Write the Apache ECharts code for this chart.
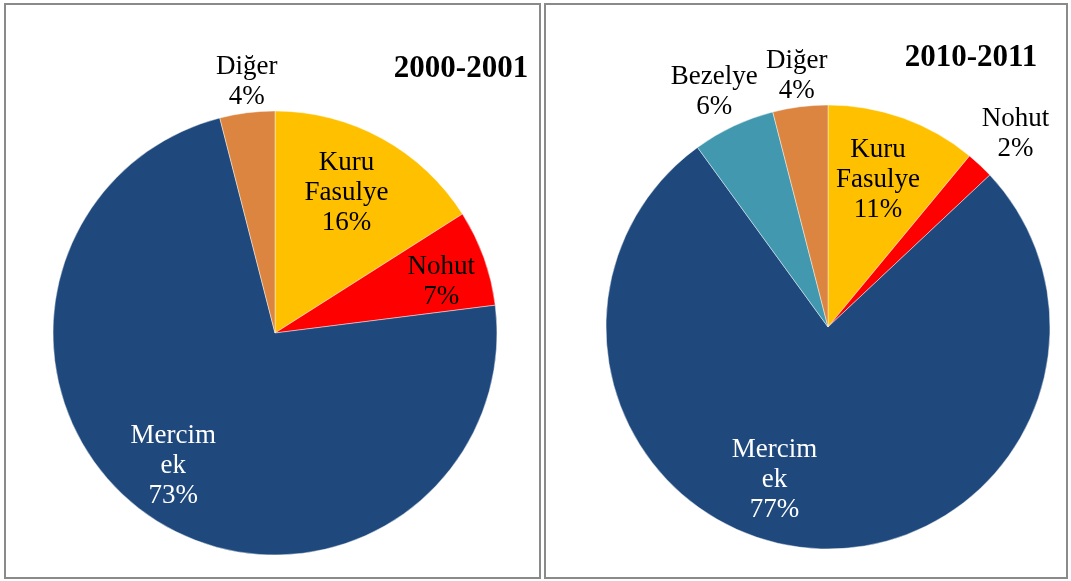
<!DOCTYPE html>
<html>
<head>
<meta charset="utf-8">
<script src="https://cdn.jsdelivr.net/npm/echarts@6/dist/echarts.min.js"></script>
<style>
  html, body { margin: 0; padding: 0; background: #ffffff; }
  #chart { width: 1071px; height: 581px; }
</style>
</head>
<body>
<div id="chart"></div>
<script>
// Pulse production shares (%), two crop years
const titles = ['2000-2001', '2010-2011'];

const categories2000 = ['Kuru Fasulye', 'Nohut', 'Mercimek', 'Diğer'];
const values2000 = [16, 7, 73, 4];

const categories2010 = ['Kuru Fasulye', 'Nohut', 'Mercimek', 'Bezelye', 'Diğer'];
const values2010 = [11, 2, 77, 6, 4];

// label text as it is wrapped on the chart
const labelNames = {
  'Kuru Fasulye': 'Kuru\nFasulye',
  'Nohut': 'Nohut',
  'Mercimek': 'Mercim\nek',
  'Bezelye': 'Bezelye',
  'Diğer': 'Diğer'
};

const colors = {
  'Kuru Fasulye': '#FFC000',
  'Nohut': '#FF0000',
  'Mercimek': '#1F497D',
  'Bezelye': '#4198AF',
  'Diğer': '#DC8540'
};

// slices whose label sits outside the pie
const outsideLabels = {
  '2000-2001': ['Diğer'],
  '2010-2011': ['Nohut', 'Bezelye', 'Diğer']
};

// small nudges of label blocks [dx, dy]
const labelNudge = {
  '2000-2001': { 'Kuru Fasulye': [-8, 5], 'Nohut': [11, 5], 'Mercimek': [-9, -4], 'Diğer': [5, 12] },
  '2010-2011': { 'Kuru Fasulye': [-6, 8], 'Nohut': [6, 0], 'Mercimek': [-38, -11], 'Bezelye': [-1, 5], 'Diğer': [2, 12] }
};

const R = 222;
const centers = [[275, 333], [828, 327]];
const font = '"Liberation Serif", "Times New Roman", serif';

function pieSeries(title, cats, vals, center) {
  const slices = cats.map((c, i) => ({
    name: c, value: vals[i],
    itemStyle: { color: colors[c] }
  }));
  const main = {
    type: 'pie', center: center, radius: [0, R],
    startAngle: 90, clockwise: true,
    label: { show: false }, labelLine: { show: false },
    itemStyle: { borderColor: 'rgba(255,255,255,0.55)', borderWidth: 0.8 },
    emphasis: { disabled: true }, silent: true,
    data: slices, animation: false
  };
  // label rings: transparent sectors carrying the text
  function ring(radius, outside) {
    return {
      type: 'pie', center: center, radius: radius,
      startAngle: 90, clockwise: true, avoidLabelOverlap: false,
      silent: true, emphasis: { disabled: true }, animation: false,
      itemStyle: { color: 'rgba(0,0,0,0)', borderWidth: 0 },
      labelLine: { show: false },
      data: cats.map((c, i) => {
        const isOut = outsideLabels[title].indexOf(c) >= 0;
        return {
          name: c, value: vals[i],
          label: {
            show: isOut === outside,
            position: 'inside',
            offset: labelNudge[title][c] || [0, 0],
            formatter: labelNames[c] + '\n' + vals[i] + '%',
            color: c === 'Mercimek' ? '#ffffff' : '#000000',
            fontFamily: font, fontSize: 27, lineHeight: 30,
            align: 'center', verticalAlign: 'middle'
          }
        };
      })
    };
  }
  return [main, ring([R * 0.46, R], false), ring([R, R * 1.36], true)];
}

const chart = echarts.init(document.getElementById('chart'), null, { renderer: 'canvas' });

chart.setOption({
  backgroundColor: '#ffffff',
  animation: false,
  graphic: [
    { type: 'rect', shape: { x: 5, y: 4, width: 535, height: 574 },
      style: { fill: 'none', stroke: '#8a8a8a', lineWidth: 2 } },
    { type: 'rect', shape: { x: 545, y: 4, width: 522, height: 574 },
      style: { fill: 'none', stroke: '#8a8a8a', lineWidth: 2 } },
    { type: 'text', x: 461, y: 69,
      style: { text: titles[0], fontFamily: font, fontWeight: 'bold', fontSize: 31,
               fill: '#000', align: 'center', verticalAlign: 'middle' } },
    { type: 'text', x: 971, y: 58,
      style: { text: titles[1], fontFamily: font, fontWeight: 'bold', fontSize: 31,
               fill: '#000', align: 'center', verticalAlign: 'middle' } }
  ],
  series: [
    ...pieSeries(titles[0], categories2000, values2000, centers[0]),
    ...pieSeries(titles[1], categories2010, values2010, centers[1])
  ]
});
</script>
</body>
</html>
